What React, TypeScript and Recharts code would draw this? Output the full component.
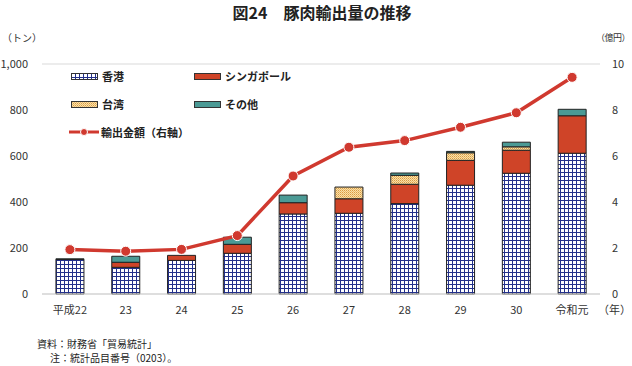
import { ComposedChart, Bar, Line, XAxis, YAxis, CartesianGrid } from "recharts";

const years = ["平成22", "23", "24", "25", "26", "27", "28", "29", "30", "令和元"];
const hongKong = [150, 116, 146, 177, 348, 351, 393, 473, 525, 612];
const singapore = [0, 22, 22, 39, 49, 63, 84, 108, 100, 163];
const taiwan = [0, 0, 0, 0, 0, 51, 39, 33, 15, 0];
const others = [3, 26, 0, 31, 33, 0, 10, 6, 20, 28];
const exportValue = [1.93, 1.86, 1.94, 2.54, 5.13, 6.38, 6.67, 7.25, 7.88, 9.42];
const leftTicks = [0, 200, 400, 600, 800, 1000];
const rightTicks = [0, 2, 4, 6, 8, 10];

const data = years.map((y, i) => ({
  year: y,
  hk: hongKong[i],
  sg: singapore[i],
  tw: taiwan[i],
  other: others[i],
  value: exportValue[i],
}));

const font = '"Noto Sans CJK JP", "Noto Sans", sans-serif';
const tickStyle = { fontSize: 11, fill: "#333", fontFamily: font };
const RED = "#d0392f";
const ORANGE = "#cf4428";
const TEAL = "#4b9a95";

function Swatch({ fill }: { fill: string }) {
  return (
    <svg width={27} height={7} style={{ display: "block" }}>
      <rect x={0.5} y={0.5} width={26} height={6} fill={fill} stroke="#333" strokeWidth={1} />
    </svg>
  );
}

// legend drawn over the plot, top-left
function LegendBox() {
  const item = (label: string, fill: string, x: number, y: number) => (
    <div style={{ position: "absolute", left: x, top: y, display: "flex", alignItems: "center", gap: 4, whiteSpace: "nowrap" }}>
      <Swatch fill={fill} />
      <span>{label}</span>
    </div>
  );
  return (
    <div style={{ position: "absolute", left: 71, top: 68, width: 300, height: 80, fontSize: 11, fontFamily: font, color: "#222", fontWeight: 600, lineHeight: "16px" }}>
      {item("香港", "url(#hkPat)", 0, 0)}
      {item("シンガポール", ORANGE, 123, 0)}
      {item("台湾", "url(#twPat)", 0, 28)}
      {item("その他", TEAL, 123, 28)}
      <div style={{ position: "absolute", left: -2, top: 56, display: "flex", alignItems: "center", gap: 2, whiteSpace: "nowrap" }}>
        <svg width={30} height={10} style={{ display: "block" }}>
          <line x1={0} y1={5} x2={30} y2={5} stroke={RED} strokeWidth={3} />
          <circle cx={15} cy={5} r={3.5} fill={RED} stroke="#fff" strokeWidth={1} />
        </svg>
        <span>輸出金額（右軸）</span>
      </div>
    </div>
  );
}

export default function App() {
  return (
    <div style={{ position: "absolute", left: 0, top: 0, width: 632, height: 366, background: "#fff", fontFamily: font, overflow: "hidden" }}>
      <div style={{ position: "absolute", top: 0, left: 0, width: 644, textAlign: "center", fontSize: 16, fontWeight: 700, color: "#222", lineHeight: "24px" }}>
        図24　豚肉輸出量の推移
      </div>
      <div style={{ position: "absolute", top: 30, left: 2, fontSize: 10, color: "#333", whiteSpace: "nowrap" }}>（トン）</div>
      <div style={{ position: "absolute", top: 31, left: 596, fontSize: 9, color: "#333", whiteSpace: "nowrap", letterSpacing: -0.5 }}>（億円）</div>
      <div style={{ position: "absolute", top: 301, left: 598, fontSize: 11, color: "#333", whiteSpace: "nowrap" }}>（年）</div>
      <ComposedChart width={632} height={366} data={data} margin={{ top: 64, right: 0, left: 0, bottom: 42 }} barCategoryGap="25%">
        <defs>
          <pattern id="hkPat" width={4} height={4} patternUnits="userSpaceOnUse">
            <rect width={4} height={4} fill="#fff" />
            <path d="M0 0.5 H4 M0.5 0 V4" stroke="#23308a" strokeWidth={1} />
          </pattern>
          <pattern id="twPat" width={2} height={2} patternUnits="userSpaceOnUse">
            <rect width={2} height={2} fill="#fbe2a6" />
            <rect width={1} height={1} fill="#d99a45" />
            <rect x={1} y={1} width={1} height={1} fill="#e8b870" />
          </pattern>
        </defs>
        <CartesianGrid vertical={false} stroke="#d9d9d9" />
        <XAxis dataKey="year" tick={tickStyle} tickLine={false} axisLine={{ stroke: "#d0d0d0" }} height={30} tickMargin={6} interval={0} />
        <YAxis yAxisId="left" domain={[0, 1000]} ticks={leftTicks} width={42} tick={tickStyle} tickLine={false} axisLine={false}
          tickFormatter={(v: number) => v.toLocaleString("en-US")} tickMargin={8} />
        <YAxis yAxisId="right" orientation="right" domain={[0, 10]} ticks={rightTicks} width={32} tick={{ ...tickStyle, textAnchor: "start" }}
          tickLine={false} axisLine={false} tickMargin={6} />
        <Bar yAxisId="left" dataKey="hk" stackId="a" fill="url(#hkPat)" stroke="#222" strokeWidth={1} isAnimationActive={false} />
        <Bar yAxisId="left" dataKey="sg" stackId="a" fill={ORANGE} stroke="#222" strokeWidth={1} isAnimationActive={false} />
        <Bar yAxisId="left" dataKey="tw" stackId="a" fill="url(#twPat)" stroke="#222" strokeWidth={1} isAnimationActive={false} />
        <Bar yAxisId="left" dataKey="other" stackId="a" fill={TEAL} stroke="#222" strokeWidth={1} isAnimationActive={false} />
        <Line yAxisId="right" dataKey="value" stroke={RED} strokeWidth={3.5} dot={{ r: 5, fill: RED, stroke: "#fff", strokeWidth: 1 }} isAnimationActive={false} />
      </ComposedChart>
      <LegendBox />
      <div style={{ position: "absolute", top: 337, left: 37, fontSize: 10, color: "#222", lineHeight: "14px", whiteSpace: "nowrap" }}>
        <div>資料：財務省「貿易統計」</div>
        <div style={{ paddingLeft: 13 }}>注：統計品目番号（0203）。</div>
      </div>
    </div>
  );
}
